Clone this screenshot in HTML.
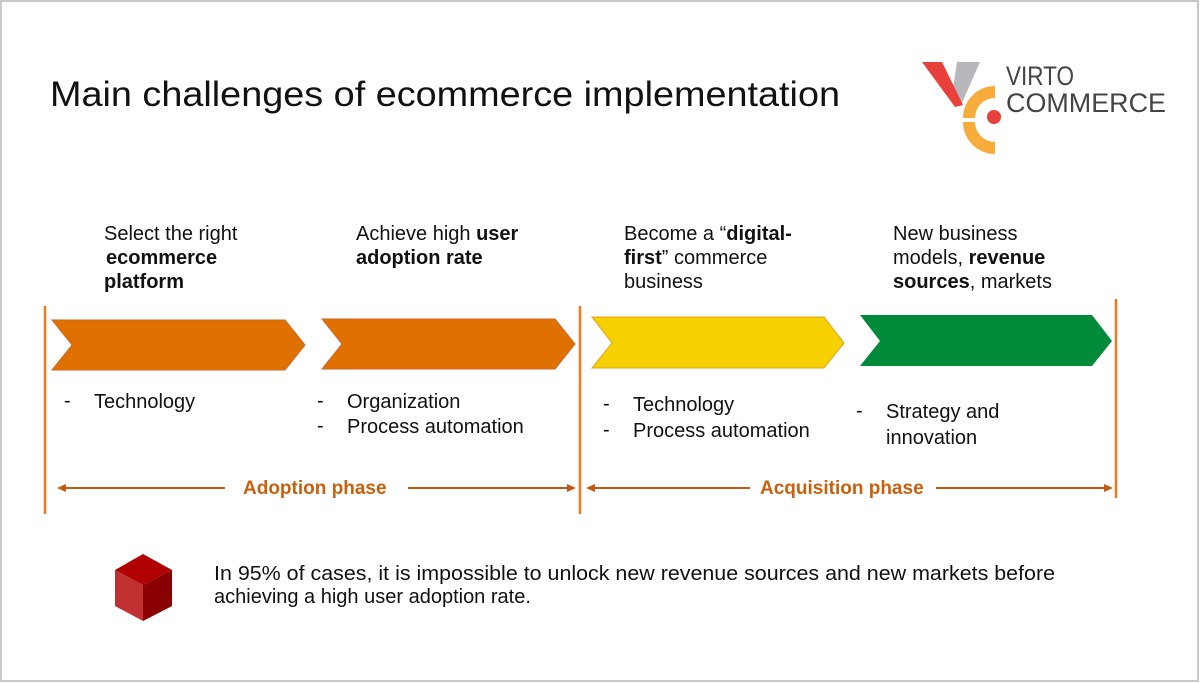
<!DOCTYPE html>
<html><head><meta charset="utf-8"><style>
html,body{margin:0;padding:0;background:#fff;}
body{width:1200px;height:683px;overflow:hidden;}
svg{display:block;font-family:"Liberation Sans",sans-serif;}
</style></head><body>
<svg width="1200" height="683" viewBox="0 0 1200 683" xmlns="http://www.w3.org/2000/svg">
<rect x="1" y="1" width="1197" height="680" fill="#fff" stroke="#c8c8c8" stroke-width="2"/>
<text x="50" y="106" font-size="35" fill="#111" textLength="790" lengthAdjust="spacingAndGlyphs">Main challenges of ecommerce implementation</text>
<!-- logo -->
<polygon points="957,62 980,62 962,103 953,88" fill="#b8b8bc"/>
<polygon points="922,62 942,62 963,105 955,107" fill="#e8403a"/>
<path d="M995,86 A32,32 0 0 0 963,118 L975,118 A20,20 0 0 1 995,98 Z" fill="#f8ac3c"/>
<path d="M963,122 A32,32 0 0 0 995,154 L995,142 A20,20 0 0 1 975,122 Z" fill="#f8ac3c"/>
<circle cx="994" cy="117" r="7" fill="#e8403a"/>
<text x="1006" y="85" font-size="27" fill="#444" textLength="68" lengthAdjust="spacingAndGlyphs">VIRTO</text>
<text x="1006" y="112" font-size="27" fill="#444" textLength="160" lengthAdjust="spacingAndGlyphs">COMMERCE</text>
<!-- headings -->
<g font-size="20" fill="#111">
<text x="104" y="240">Select the right</text>
<text x="106" y="264" font-weight="bold">ecommerce</text>
<text x="104" y="288" font-weight="bold">platform</text>
<text x="356" y="240">Achieve high <tspan font-weight="bold">user</tspan></text>
<text x="356" y="264" font-weight="bold">adoption rate</text>
<text x="624" y="240">Become a “<tspan font-weight="bold">digital-</tspan></text>
<text x="624" y="264"><tspan font-weight="bold">first</tspan>” commerce</text>
<text x="624" y="288">business</text>
<text x="893" y="240">New business</text>
<text x="893" y="264">models, <tspan font-weight="bold">revenue</tspan></text>
<text x="893" y="288"><tspan font-weight="bold">sources</tspan>, markets</text>
</g>
<!-- vertical lines -->
<g stroke="#f07820" stroke-width="2.5">
<line x1="45" y1="306" x2="45" y2="514"/>
<line x1="580" y1="306" x2="580" y2="514"/>
<line x1="1116" y1="299" x2="1116" y2="498"/>
</g>
<!-- chevrons -->
<polygon points="52,320 285,320 305,345 285,370 52,370 72,345" fill="#e07000" stroke="#c86a20" stroke-width="1"/>
<polygon points="322,319 555,319 575,344 555,369 322,369 342,344" fill="#e07000" stroke="#c86a20" stroke-width="1"/>
<polygon points="592,317 824,317 844,343 824,368 592,368 612,343" fill="#f7d000" stroke="#e0a020" stroke-width="1"/>
<polygon points="860,315 1092,315 1112,341 1092,366 860,366 880,341" fill="#008a3a"/>
<!-- bullets -->
<g font-size="20" fill="#111">
<text x="64" y="407">-</text><text x="94" y="408">Technology</text>
<text x="317" y="407">-</text><text x="347" y="408">Organization</text>
<text x="317" y="432">-</text><text x="347" y="433">Process automation</text>
<text x="603" y="410">-</text><text x="633" y="411">Technology</text>
<text x="603" y="436">-</text><text x="633" y="437">Process automation</text>
<text x="856" y="417">-</text><text x="886" y="418">Strategy and</text>
<text x="886" y="444">innovation</text>
</g>
<!-- phase arrows -->
<g stroke="#c05a10" stroke-width="2" fill="#c05a10">
<line x1="62" y1="488" x2="225" y2="488"/>
<polygon points="57,488 66,484 66,492" stroke="none"/>
<line x1="408" y1="488" x2="571" y2="488"/>
<polygon points="576,488 567,484 567,492" stroke="none"/>
<line x1="591" y1="488" x2="750" y2="488"/>
<polygon points="586,488 595,484 595,492" stroke="none"/>
<line x1="936" y1="488" x2="1108" y2="488"/>
<polygon points="1113,488 1104,484 1104,492" stroke="none"/>
</g>
<text x="243" y="494" font-size="19" font-weight="bold" fill="#c8600e">Adoption phase</text>
<text x="760" y="494" font-size="19" font-weight="bold" fill="#c8600e">Acquisition phase</text>
<!-- cube -->
<polygon points="143,554 172,570 143,585 115,570" fill="#b00000"/>
<polygon points="115,570 143,585 143,621 115,606" fill="#c03030"/>
<polygon points="143,585 172,570 172,606 143,621" fill="#8a0000"/>
<g font-size="20" fill="#111">
<text x="214" y="580" textLength="841" lengthAdjust="spacingAndGlyphs">In 95% of cases, it is impossible to unlock new revenue sources and new markets before</text>
<text x="214" y="603">achieving a high user adoption rate.</text>
</g>
</svg>
</body></html>
